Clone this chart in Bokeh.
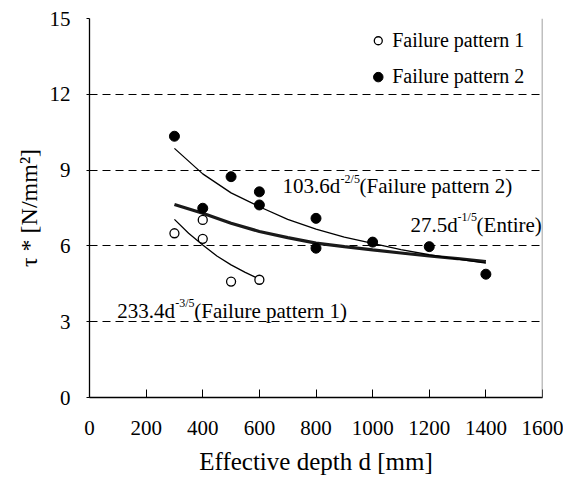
from bokeh.plotting import figure
from bokeh.models import Range1d, FixedTicker, Label, Span
from bokeh.embed import file_html
from bokeh.resources import INLINE

# ---- data ----
d_p1 = [300, 400, 400, 500, 600]
tau_p1 = [6.50, 7.03, 6.28, 4.59, 4.66]

d_p2 = [300, 400, 500, 600, 600, 800, 800, 1000, 1200, 1400]
tau_p2 = [10.34, 7.49, 8.74, 8.14, 7.62, 7.09, 5.91, 6.15, 5.97, 4.88]

fit_p1_d = [300, 350, 400, 450, 500, 550, 600]
fit_p1_tau = [7.05, 6.50, 6.04, 5.60, 5.25, 4.95, 4.69]

fit_p2_d = [300, 400, 500, 600, 700, 800, 900, 1000, 1100, 1200, 1300, 1400]
fit_p2_tau = [9.86, 8.85, 8.10, 7.55, 7.05, 6.66, 6.35, 6.10, 5.85, 5.65, 5.48, 5.32]

fit_all_d = [300, 400, 500, 600, 700, 800, 900, 1000, 1100, 1200, 1300, 1400]
fit_all_tau = [7.64, 7.29, 6.90, 6.57, 6.33, 6.11, 5.97, 5.84, 5.72, 5.60, 5.50, 5.38]

x_ticks = [0, 200, 400, 600, 800, 1000, 1200, 1400, 1600]
y_ticks = [0, 3, 6, 9, 12, 15]
grid_ticks = [3, 6, 9, 12, 15]

legend_labels = ["Failure pattern 1", "Failure pattern 2"]

FONT = "Liberation Serif"

p = figure(width=563, height=477, output_backend="svg", toolbar_location=None,
           x_range=Range1d(0, 1600), y_range=Range1d(0, 15),
           min_border_left=89, min_border_right=21, min_border_top=18,
           min_border_bottom=79)
p.outline_line_color = None
p.background_fill_color = "white"
p.border_fill_color = "white"

# axes
p.xaxis.ticker = FixedTicker(ticks=x_ticks)
p.yaxis.ticker = FixedTicker(ticks=y_ticks)
p.xaxis.axis_label = "Effective depth d [mm]"
p.yaxis.axis_label = "τ * [N/mm²]"
for ax in (p.xaxis[0], p.yaxis[0]):
    ax.axis_line_color = "black"
    ax.axis_line_width = 1.3
    ax.major_tick_line_color = "black"
    ax.major_tick_line_width = 1
    ax.minor_tick_line_color = None
    ax.major_label_text_font = FONT
    ax.major_label_text_font_size = "21px"
    ax.major_label_text_color = "black"
    ax.axis_label_text_font = FONT
    ax.axis_label_text_font_style = "normal"
    ax.axis_label_text_color = "black"
p.xaxis.major_tick_in = 8
p.xaxis.major_tick_out = 0
p.xaxis.major_label_standoff = 23
p.xaxis.axis_label_standoff = 10
p.xaxis.axis_label_text_font_size = "25px"
p.yaxis.major_tick_in = 0
p.yaxis.major_tick_out = 3
p.yaxis.major_label_standoff = 16
p.yaxis.axis_label_standoff = 5
p.yaxis.axis_label_text_font_size = "24px"

# grid
p.xgrid.visible = False
p.ygrid.ticker = FixedTicker(ticks=grid_ticks)
p.ygrid.grid_line_color = "black"
p.ygrid.grid_line_width = 1
p.ygrid.grid_line_dash = "8 5"

# right border
p.add_layout(Span(location=1600, dimension="height", line_color="#808080", line_width=1.5))

# fitted curves
p.line(fit_all_d, fit_all_tau, line_color="#1a1a1a", line_width=3.2)
p.line(fit_p2_d, fit_p2_tau, line_color="black", line_width=1.3)
p.line(fit_p1_d, fit_p1_tau, line_color="black", line_width=1.3)

# data points
p.scatter(d_p1, tau_p1, marker="circle", size=9, fill_color="white",
          line_color="black", line_width=1.3)
p.scatter(d_p2, tau_p2, marker="circle", size=10, fill_color="black",
          line_color="black")

# legend (manual)
p.scatter([1020], [14.12], marker="circle", size=8, fill_color="white",
          line_color="black", line_width=1.3)
p.scatter([1020], [12.68], marker="circle", size=9.5, fill_color="black",
          line_color="black")
for lab, yy in zip(legend_labels, [14.16, 12.72]):
    p.add_layout(Label(x=1069, y=yy, text=lab, text_font=FONT, text_font_size="20px",
                       text_baseline="middle", text_color="black"))

# curve annotations: main text, superscript, remainder
def annot(x, y, main, sup, rest, sup_dx, rest_dx):
    p.add_layout(Label(x=x, y=y, text=main, text_font=FONT, text_font_size="21px",
                       text_baseline="alphabetic", text_color="black"))
    p.add_layout(Label(x=x, y=y, x_offset=sup_dx, y_offset=7.5, text=sup, text_font=FONT,
                       text_font_size="12px", text_baseline="alphabetic", text_color="black"))
    p.add_layout(Label(x=x, y=y, x_offset=rest_dx, text=rest, text_font=FONT,
                       text_font_size="21px", text_baseline="alphabetic", text_color="black"))

annot(682, 8.37, "103.6d", "-2/5", "(Failure pattern 2)", 58, 77)
annot(1134, 6.83, "27.5d", "-1/5", "(Entire)", 47, 66)
annot(98, 3.44, "233.4d", "-3/5", "(Failure pattern 1)", 58, 77)

open("out.html", "w").write(file_html(p, INLINE))
